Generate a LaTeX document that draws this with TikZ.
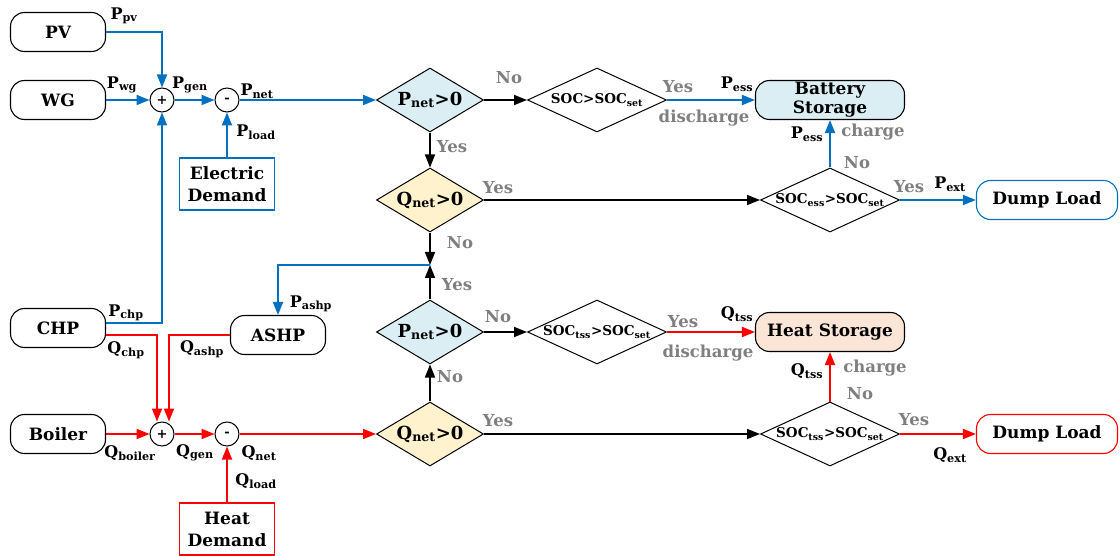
\documentclass[tikz,border=0pt]{standalone}
\usepackage{fontspec}
\setmainfont{DejaVu Serif}
\usepackage{xcolor}
\usepackage{tikz}
\usetikzlibrary{arrows.meta,positioning,shapes.geometric,calc}
\definecolor{eblue}{RGB}{0,112,192}
\definecolor{hred}{RGB}{255,0,0}
\definecolor{pfill}{RGB}{218,238,243}
\definecolor{qfill}{RGB}{255,242,204}
\definecolor{hfill}{RGB}{251,229,214}
\definecolor{txtgray}{RGB}{127,127,127}
\newcommand{\vr}[2]{#1\textsubscript{#2}}

\begin{document}
\begin{tikzpicture}[x=1pt, y=-1pt,
  term/.style={draw, rounded corners=14pt, align=center, font=\bfseries\fontsize{17}{19}\selectfont, minimum width=95pt, minimum height=39pt, inner sep=0pt, line width=1.1pt, fill=#1},
  term/.default=white,
  dem/.style={draw=#1, align=center, font=\bfseries\fontsize{17}{22}\selectfont, minimum width=95pt, minimum height=52pt, inner sep=0pt, line width=1.3pt},
  sumc/.style={draw, circle, minimum size=24pt, inner sep=0pt, font=\bfseries\fontsize{13}{13}\selectfont, line width=1pt},
  dec/.style={draw, diamond, aspect=2, minimum width=107pt, minimum height=64pt, inner sep=0pt, line width=1pt, fill=#1, font=\bfseries\fontsize{18}{18}\selectfont},
  soc/.style={draw, diamond, aspect=2.2, minimum width=139pt, minimum height=64pt, inner sep=0pt, line width=1pt, font=\bfseries\fontsize{13.5}{13.5}\selectfont},
  lbl/.style={font=\bfseries\fontsize{16}{16}\selectfont, inner sep=0pt},
  gry/.style={lbl, font=\bfseries\fontsize{16.5}{16.5}\selectfont, text=txtgray},
  barr/.style={-{Triangle[length=13pt,width=10pt]}, eblue, line width=1.8pt},
  rarr/.style={-{Triangle[length=13pt,width=10pt]}, hred, line width=1.8pt},
  karr/.style={-{Triangle[length=13pt,width=10pt]}, black, line width=1.6pt}]
\useasboundingbox (0,0) rectangle (1120,556);
% sources and sums
\node[term] (pv) at (58,32) {PV};
\node[term] (wg) at (58,100) {WG};
\node[term] (chp) at (58,328) {CHP};
\node[term] (boil) at (58,434) {Boiler};
\node[term] (ashp) at (278,335) {ASHP};
\node[sumc] (s1) at (162,100) {+};
\node[sumc] (m1) at (227,100) {-};
\node[sumc] (s2) at (162,434) {+};
\node[sumc] (m2) at (227,434) {-};
\node[dem=eblue] (ed) at (227,184) {Electric\\Demand};
\node[dem=hred] (hd) at (227,529) {Heat\\Demand};
% decisions
\node[dec=pfill] (pn1) at (430,100) {\vr{P}{net}>0};
\node[dec=qfill] (qn1) at (430,200) {\vr{Q}{net}>0};
\node[dec=pfill] (pn2) at (430,332) {\vr{P}{net}>0};
\node[dec=qfill] (qn2) at (430,434) {\vr{Q}{net}>0};
\node[soc] (sb) at (597,100) {SOC>\vr{SOC}{set}};
\node[soc] (se) at (830,200) {\vr{SOC}{ess}>\vr{SOC}{set}};
\node[soc] (st) at (597,332) {\vr{SOC}{tss}>\vr{SOC}{set}};
\node[soc] (st2) at (830,434) {\vr{SOC}{tss}>\vr{SOC}{set}};
% storage and loads
\node[term=pfill, minimum width=149pt] (bat) at (830,100) {Battery\\Storage};
\node[term=hfill, minimum width=149pt] (hst) at (830,332) {Heat Storage};
\node[term, draw=eblue, minimum width=141pt] (dl1) at (1047,200) {Dump Load};
\node[term, draw=hred, minimum width=141pt] (dl2) at (1047,434) {Dump Load};
\coordinate (j) at (430,265);
% connectors
\draw[barr] (pv.east) -| (s1.north); \draw[barr] (wg) -- (s1); \draw[barr] (s1) -- (m1); \draw[barr] (m1) -- (pn1);
\draw[barr] (ed) -- (m1); \draw[barr] ([yshift=5pt]chp.east) -| (s1.south);
\draw[rarr] ([yshift=-7pt]chp.east) -| ([xshift=-5pt]s2.north); \draw[rarr] (ashp.west) -| ([xshift=7pt]s2.north);
\draw[rarr] (boil) -- (s2); \draw[rarr] (s2) -- (m2); \draw[rarr] (m2) -- (qn2); \draw[rarr] (hd) -- (m2);
\draw[karr] (pn1) -- (sb); \draw[barr] (sb) -- (bat); \draw[karr] (pn1) -- (qn1); \draw[karr] (qn1) -- (se);
\draw[barr] (se) -- (bat); \draw[barr] (se) -- (dl1);
\draw[karr] (qn1) -- (j); \draw[karr] (pn2) -- (j); \draw[barr] (j) -| (ashp.north);
\draw[karr] (qn2) -- (pn2); \draw[karr] (pn2) -- (st); \draw[rarr] (st) -- (hst);
\draw[karr] (qn2) -- (st2); \draw[rarr] (st2) -- (hst); \draw[rarr] (st2) -- (dl2);
% flow labels
\node[lbl] (lpv) at (124,16) {\vr{P}{pv}};
\node[lbl] (lwg) at (122,85) {\vr{P}{wg}};
\node[lbl] (lpg) at (190,85) {\vr{P}{gen}};
\node[lbl] (lpn) at (257,91) {\vr{P}{net}};
\node[lbl] (lpl) at (256,132) {\vr{P}{load}};
\node[lbl] (lpc) at (126,313) {\vr{P}{chp}};
\node[lbl] (lqc) at (126,350) {\vr{Q}{chp}};
\node[lbl] (lpa) at (311,304) {\vr{P}{ashp}};
\node[lbl] (lqa) at (202,349) {\vr{Q}{ashp}};
\node[lbl] (lqb) at (130,453) {\vr{Q}{boiler}};
\node[lbl] (lqg) at (195,453) {\vr{Q}{gen}};
\node[lbl] (lqn) at (259,453) {\vr{Q}{net}};
\node[lbl] (lql) at (256,481) {\vr{Q}{load}};
\node[lbl] (lpe1) at (737,84) {\vr{P}{ess}};
\node[lbl] (lpe2) at (807,134) {\vr{P}{ess}};
\node[lbl] (lpx) at (950,184) {\vr{P}{ext}};
\node[lbl] (lqt1) at (737,314) {\vr{Q}{tss}};
\node[lbl] (lqt2) at (807,371) {\vr{Q}{tss}};
\node[lbl] (lqx) at (950,455) {\vr{Q}{ext}};
% decision labels
\node[gry] (g1) at (509,78) {No};
\node[gry] (g2) at (678,87) {Yes};
\node[gry] (g3) at (704,118) {discharge};
\node[gry] (g4) at (452,147) {Yes};
\node[gry] (g5) at (498,188) {Yes};
\node[gry] (g6) at (460,243) {No};
\node[gry] (g7) at (873,132) {charge};
\node[gry] (g8) at (857,163) {No};
\node[gry] (g9) at (909,187) {Yes};
\node[gry] (g10) at (457,285) {Yes};
\node[gry] (g11) at (498,317) {No};
\node[gry] (g12) at (683,322) {Yes};
\node[gry] (g13) at (708,353) {discharge};
\node[gry] (g14) at (450,377) {No};
\node[gry] (g15) at (498,421) {Yes};
\node[gry] (g16) at (875,368) {charge};
\node[gry] (g17) at (860,394) {No};
\node[gry] (g18) at (914,420) {Yes};
\end{tikzpicture}
\end{document}
